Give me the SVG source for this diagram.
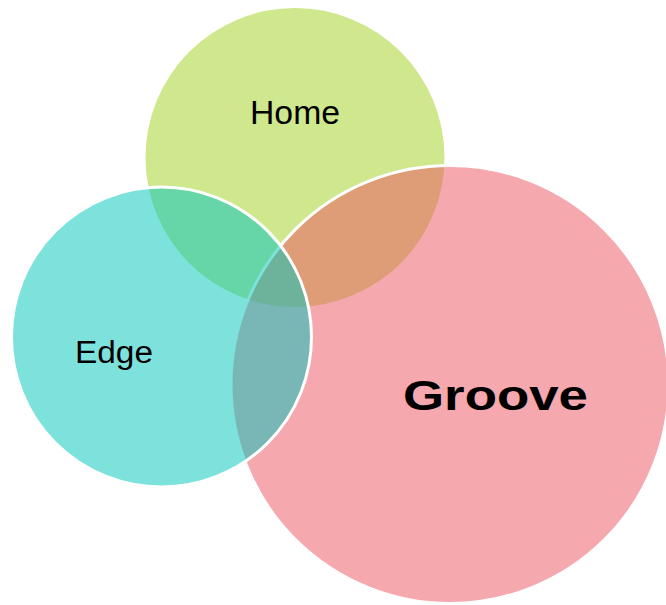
<svg xmlns="http://www.w3.org/2000/svg" width="666" height="605" viewBox="0 0 666 605">
  <style>
    .c { stroke: #ffffff; stroke-width: 3; }
    .t { font-family: "Liberation Sans", Arial, sans-serif; fill: #000000; }
  </style>
  <rect x="0" y="0" width="666" height="605" fill="#ffffff"/>
  <g id="home">
    <circle cx="295" cy="157.5" r="149.5" fill="#cfe88e"/>
    <text class="t" x="250" y="124" font-size="33" textLength="90" lengthAdjust="spacingAndGlyphs">Home</text>
  </g>
  <g id="groove">
    <circle class="c" cx="450" cy="384.5" r="219" fill="#ec5861" fill-opacity="0.52"/>
    <text class="t" x="403" y="410" font-size="42" font-weight="bold" textLength="185" lengthAdjust="spacingAndGlyphs">Groove</text>
  </g>
  <g id="edge">
    <circle class="c" cx="161.5" cy="337" r="150" fill="#05c5bc" fill-opacity="0.52"/>
    <text class="t" x="75" y="363" font-size="31" textLength="78" lengthAdjust="spacingAndGlyphs">Edge</text>
  </g>
  <g id="connectors"></g>
</svg>
